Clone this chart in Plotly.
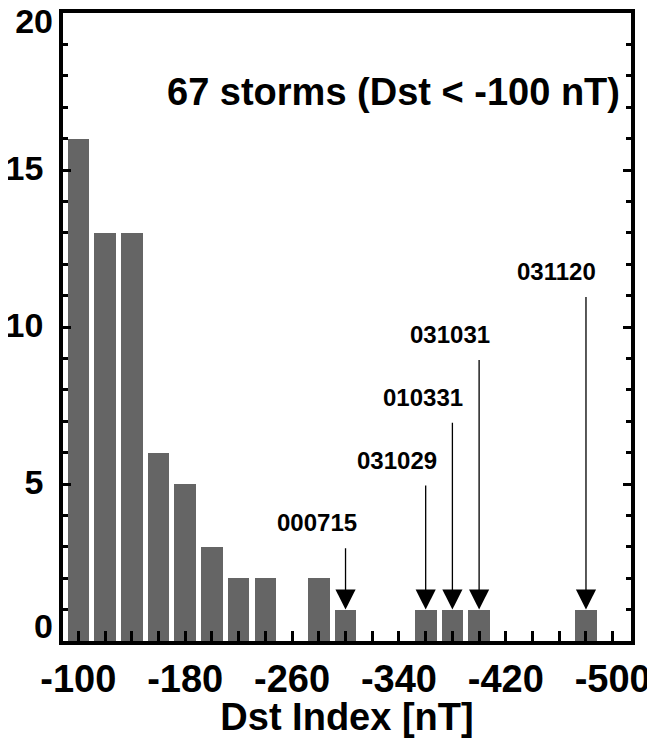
import plotly.graph_objects as go

# Histogram of Dst minima (bin centres in nT) and number of storms per bin
bin_centers = [-100, -120, -140, -160, -180, -200, -220, -240, -260, -280, -300,
               -320, -340, -360, -380, -400, -420, -440, -460, -480, -500]
counts = [16, 13, 13, 6, 5, 3, 2, 2, 0, 2, 1, 0, 0, 1, 1, 1, 0, 0, 0, 1, 0]

# Labelled storms (yymmdd), the bin they fall in, and where each arrow starts
event_labels = ["000715", "031029", "010331", "031031", "031120"]
event_bins = [-300, -360, -380, -400, -480]
arrow_tails = [3, 5, 7, 9, 11]

x_tickvals = [-100, -180, -260, -340, -420, -500]

title_text = "67 storms (Dst < -100 nT)"
x_title = "Dst Index [nT]"

FONT = "Liberation Sans, Arial, Helvetica, sans-serif"
BLACK = "#000000"

fig = go.Figure()
fig.add_trace(go.Bar(
    x=bin_centers, y=counts, width=16.2,
    marker=dict(color="#656565", line=dict(width=0)),
    showlegend=False,
))

# invisible helper traces so the extra y axes (for end labels) exist
fig.add_trace(go.Scatter(x=[bin_centers[0]], y=[0], yaxis="y2", mode="markers",
                         marker=dict(opacity=0), showlegend=False, hoverinfo="skip"))
fig.add_trace(go.Scatter(x=[bin_centers[0]], y=[0], yaxis="y3", mode="markers",
                         marker=dict(opacity=0), showlegend=False, hoverinfo="skip"))

count_at = dict(zip(bin_centers, counts))
for lab, b, tail in zip(event_labels, event_bins, arrow_tails):
    fig.add_annotation(
        x=b, y=count_at[b], ax=b, ay=tail, xref="x", yref="y", axref="x", ayref="y",
        text="", showarrow=True, arrowhead=2, arrowsize=3.1, arrowwidth=1.3,
        arrowcolor=BLACK, standoff=0, startstandoff=0,
    )
    fig.add_annotation(
        x=b, y=tail, xref="x", yref="y", text=lab, showarrow=False,
        xanchor="center", yanchor="middle", xshift=-29, yshift=24,
        font=dict(family=FONT, size=24, color=BLACK, weight="bold"),
    )

fig.add_annotation(
    x=0.582, y=0.8745, xref="paper", yref="paper", text=title_text, showarrow=False,
    xanchor="center", yanchor="middle",
    font=dict(family=FONT, size=38, color=BLACK, weight="bold"),
)

yrange = [0, 20]
# page body has an 8 px default margin, so the figure is sized/placed to compensate
fig.update_layout(
    width=647, height=730,
    margin=dict(l=55, r=24, t=5, b=97),
    paper_bgcolor="white", plot_bgcolor="white",
    bargap=0,
    xaxis=dict(
        range=[-88.5, -513.7], showgrid=False, zeroline=False, automargin=False,
        showline=True, linecolor=BLACK, linewidth=3.5, mirror=True,
        ticks="inside", ticklen=10, tickwidth=3, tickcolor=BLACK,
        tickvals=x_tickvals, ticktext=[str(v) for v in x_tickvals],
        tickfont=dict(family=FONT, size=38, color=BLACK, weight="bold"),
        ticklabelstandoff=2, ticklabeloverflow="allow",
        minor=dict(dtick=20, tick0=-100, ticks="inside", ticklen=10, tickwidth=3,
                   tickcolor=BLACK, showgrid=False),
        title=dict(text=x_title, standoff=16,
                   font=dict(family=FONT, size=38, color=BLACK, weight="bold")),
    ),
    yaxis=dict(
        range=yrange, showgrid=False, zeroline=False, automargin=False,
        showline=True, linecolor=BLACK, linewidth=3.5, mirror="ticks",
        ticks="inside", ticklen=8, tickwidth=3, tickcolor=BLACK,
        tickvals=[0, 5, 10, 15, 20], ticktext=["", "5", "10", "15", ""],
        tickfont=dict(family=FONT, size=34, color=BLACK, weight="bold"),
        ticklabelstandoff=9, ticklabelshift=-2, ticklabeloverflow="allow",
        minor=dict(dtick=1, ticks="inside", ticklen=5, tickwidth=3,
                   tickcolor=BLACK, showgrid=False),
    ),
    yaxis2=dict(
        range=yrange, overlaying="y", anchor="x", side="left", automargin=False,
        showgrid=False, zeroline=False, showline=False, ticks="",
        tickvals=[20], ticktext=["20"], ticklabelshift=8, ticklabelstandoff=9,
        ticklabeloverflow="allow",
        tickfont=dict(family=FONT, size=34, color=BLACK, weight="bold"),
    ),
    yaxis3=dict(
        range=yrange, overlaying="y", anchor="x", side="left", automargin=False,
        showgrid=False, zeroline=False, showline=False, ticks="",
        tickvals=[0], ticktext=["0"], ticklabelshift=-15, ticklabelstandoff=9,
        ticklabeloverflow="allow",
        tickfont=dict(family=FONT, size=34, color=BLACK, weight="bold"),
    ),
)

fig.write_html("out.html")
